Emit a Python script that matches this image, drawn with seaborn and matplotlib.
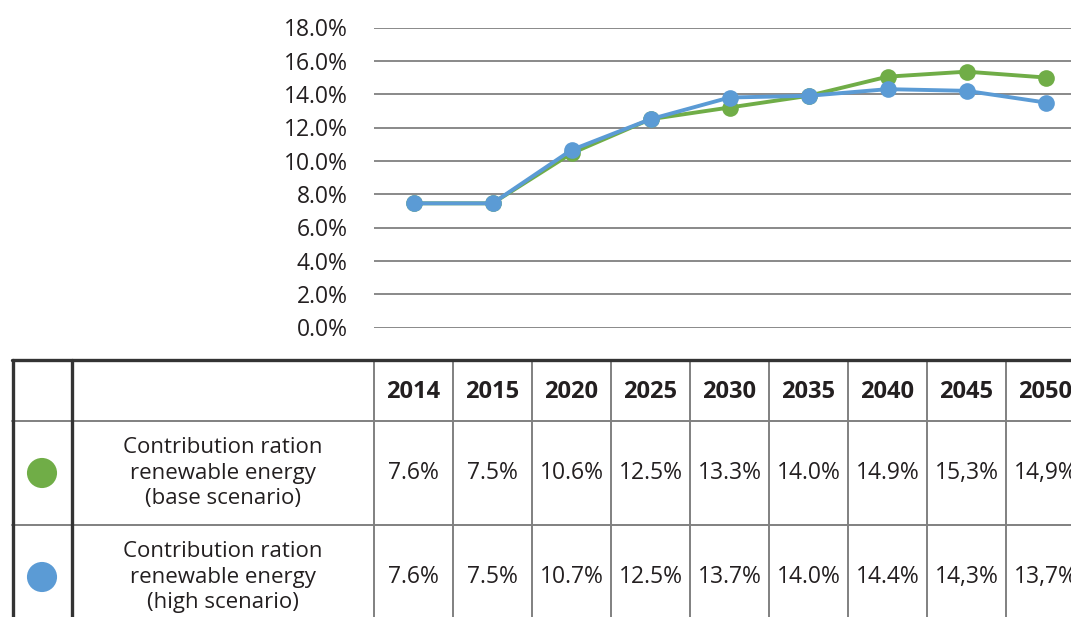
"""Renewable energy contribution ratio: line chart with data table below."""

import matplotlib

matplotlib.use("Agg")
import matplotlib.pyplot as plt
import numpy as np
import pandas as pd
import seaborn as sns

YEARS = ["2014", "2015", "2020", "2025", "2030", "2035", "2040", "2045", "2050"]
# values as drawn in the chart (%)
BASE_PLOTTED = [7.45, 7.45, 10.45, 12.5, 13.2, 13.9, 15.05, 15.35, 15.0]
HIGH_PLOTTED = [7.45, 7.45, 10.65, 12.5, 13.8, 13.9, 14.3, 14.2, 13.5]
# values as printed in the table
BASE_TABLE = ["7.6%", "7.5%", "10.6%", "12.5%", "13.3%", "14.0%", "14.9%", "15,3%", "14,9%"]
HIGH_TABLE = ["7.6%", "7.5%", "10.7%", "12.5%", "13.7%", "14.0%", "14.4%", "14,3%", "13,7%"]
SERIES = [
    "Contribution ration\nrenewable energy\n(base scenario)",
    "Contribution ration\nrenewable energy\n(high scenario)",
]
COLORS = ["#70AD47", "#5B9BD5"]
Y_TICKS = [0, 2, 4, 6, 8, 10, 12, 14, 16, 18]

W, H = 1071, 617
PLOT_LEFT, COL_W = 374, 79
PLOT_TOP, PLOT_BOTTOM = 27.5, 327.5
TABLE_TOP, ROW1, ROW2 = 360, 421, 525

sns.set_theme(style="white")
plt.rcParams["font.family"] = ["Open Sans", "DejaVu Sans"]
TEXT = "#231f20"

fig = plt.figure(figsize=(W / 100, H / 100), dpi=100)

# --- line chart ---
ax = fig.add_axes([
    PLOT_LEFT / W,
    1 - PLOT_BOTTOM / H,
    len(YEARS) * COL_W / W,
    (PLOT_BOTTOM - PLOT_TOP) / H,
])
pos = np.arange(len(YEARS))
df = pd.DataFrame({
    "pos": np.concatenate([pos, pos]),
    "value": BASE_PLOTTED + HIGH_PLOTTED,
    "series": ["base"] * len(YEARS) + ["high"] * len(YEARS),
})
sns.lineplot(
    data=df, x="pos", y="value", hue="series", palette=COLORS,
    marker="o", markersize=12, markeredgewidth=0, linewidth=2.8,
    legend=False, ax=ax, zorder=3,
)
ax.set_xlim(-0.5, len(YEARS) - 0.5)
ax.set_ylim(0, 18)
ax.set_yticks(Y_TICKS)
ax.set_yticklabels([f"{t:.1f}%" for t in Y_TICKS], fontsize=16.5, color=TEXT)
ax.tick_params(axis="y", length=0, pad=19)
ax.set_xticks([])
ax.set_xlabel("")
ax.set_ylabel("")
ax.grid(axis="y", color="#6a6a6a", linewidth=1.1)
ax.set_axisbelow(True)
sns.despine(ax=ax, left=True, bottom=True)

# --- data table (pixel coordinates) ---
tax = fig.add_axes([0, 0, 1, 1], zorder=-1)
tax.set_xlim(0, W)
tax.set_ylim(H, 0)
tax.axis("off")

dark, grey = "#333333", "#808080"
edges = [PLOT_LEFT + k * COL_W for k in range(len(YEARS) + 1)]
for x in edges:
    tax.plot([x, x], [TABLE_TOP, H], color=grey, lw=1.4)
for y in (ROW1, ROW2):
    tax.plot([12, W], [y, y], color=grey, lw=1.4)
tax.plot([12, W], [TABLE_TOP, TABLE_TOP], color=dark, lw=2.4)
tax.plot([13, 13], [TABLE_TOP, H], color=dark, lw=2.4)
tax.plot([72, 72], [TABLE_TOP, H], color=dark, lw=2.4)

centers = [e + COL_W / 2 for e in edges[:-1]]
for cx, yr in zip(centers, YEARS):
    tax.text(cx, (TABLE_TOP + ROW1) / 2 + 1, yr, ha="center", va="center",
             fontsize=17, fontweight="bold", color=TEXT)

row_mid = [(ROW1 + ROW2) / 2, ROW2 + (ROW2 - ROW1) / 2]
for yc, label, vals, color in zip(row_mid, SERIES, [BASE_TABLE, HIGH_TABLE], COLORS):
    tax.scatter([42], [yc], s=470, color=color, edgecolors="none")
    tax.text(223, yc, label, ha="center", va="center", fontsize=16,
             color=TEXT, linespacing=1.28)
    for cx, v in zip(centers, vals):
        tax.text(cx, yc, v, ha="center", va="center", fontsize=16.5, color=TEXT)

fig.savefig("out.png", dpi=100)
